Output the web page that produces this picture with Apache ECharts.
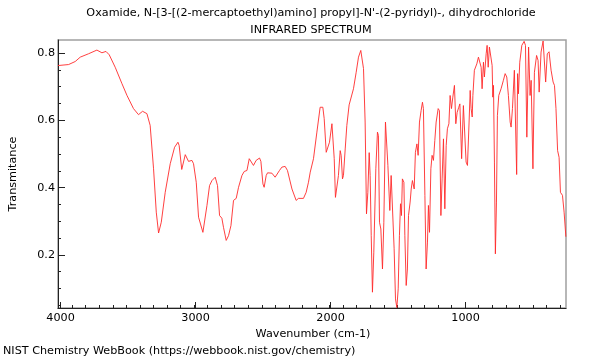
<!DOCTYPE html>
<html><head><meta charset="utf-8">
<script src="https://cdn.jsdelivr.net/npm/echarts@6/dist/echarts.min.js"></script>
<style>html,body{margin:0;padding:0;background:#fff}#c{width:600px;height:360px}</style>
</head><body><div id="c"></div>
<script>
const wavenumber = [4004,3926,3877,3840,3779,3717,3680,3650,3626,3582,
3532,3495,3447,3410,3380,3348,3324,3299,3279,3262,
3242,3213,3176,3144,3119,3110,3091,3065,3041,3016,
3004,2984,2967,2955,2935,2925,2905,2886,2868,2857,
2844,2827,2812,2795,2783,2763,2746,2728,2709,2689,
2672,2647,2630,2610,2593,2581,2562,2542,2517,2507,
2492,2483,2468,2458,2426,2402,2389,2370,2352,2328,
2311,2278,2247,2230,2193,2173,2156,2143,2119,2094,
2070,2057,2050,2040,2025,2016,2001,1983,1976,1966,
1957,1946,1935,1922,1915,1905,1898,1885,1873,1856,
1843,1824,1804,1787,1770,1758,1750,1738,1728,1718,
1708,1701,1693,1684,1674,1659,1647,1640,1632,1622,
1610,1600,1588,1581,1570,1563,1556,1546,1533,1524,
1514,1504,1494,1485,1477,1470,1463,1452,1445,1435,
1426,1418,1406,1398,1389,1376,1367,1356,1347,1337,
1325,1315,1308,1297,1288,1278,1271,1263,1253,1244,
1234,1224,1214,1199,1190,1179,1170,1160,1150,1140,
1131,1120,1111,1101,1091,1079,1069,1059,1047,1039,
1026,1013,1002,993,983,971,963,956,948,943,
932,914,902,890,882,875,865,858,845,838,
830,821,808,801,796,791,784,777,769,762,
752,742,735,727,718,705,693,681,668,661,
651,637,626,620,613,607,597,582,565,555,
545,532,521,513,500,489,473,462,454,440,
425,415,406,394,381,366,351,341,330,318,
307,297,282,270,257];
const transmittance = [0.763,0.766,0.775,0.788,0.798,0.809,0.801,0.805,0.795,0.758,
0.709,0.674,0.635,0.617,0.627,0.620,0.585,0.456,0.327,0.265,
0.297,0.386,0.471,0.520,0.535,0.525,0.454,0.498,0.478,0.481,
0.471,0.416,0.312,0.307,0.267,0.272,0.347,0.406,0.421,0.421,
0.431,0.406,0.317,0.309,0.282,0.243,0.257,0.287,0.362,0.368,
0.401,0.436,0.448,0.451,0.486,0.488,0.466,0.481,0.488,0.478,
0.411,0.401,0.436,0.444,0.443,0.431,0.426,0.451,0.461,0.463,
0.451,0.396,0.362,0.368,0.368,0.386,0.416,0.446,0.486,0.565,
0.639,0.644,0.639,0.605,0.505,0.501,0.535,0.590,0.593,0.486,
0.371,0.368,0.436,0.510,0.496,0.426,0.436,0.515,0.585,0.646,
0.642,0.694,0.743,0.788,0.808,0.805,0.754,0.595,0.322,0.386,
0.504,0.436,0.257,0.089,0.208,0.456,0.565,0.555,0.297,0.277,
0.158,0.297,0.595,0.590,0.466,0.461,0.332,0.436,0.431,0.218,
0.069,0.043,0.099,0.257,0.352,0.317,0.426,0.416,0.257,0.109,
0.158,0.317,0.357,0.396,0.421,0.396,0.505,0.530,0.496,0.595,
0.629,0.654,0.635,0.377,0.158,0.238,0.347,0.267,0.456,0.496,
0.481,0.540,0.595,0.635,0.629,0.317,0.426,0.545,0.337,0.525,
0.575,0.590,0.674,0.635,0.669,0.704,0.590,0.624,0.639,0.649,
0.486,0.644,0.649,0.476,0.466,0.595,0.689,0.635,0.610,0.674,
0.749,0.768,0.788,0.783,0.758,0.694,0.773,0.729,0.798,0.823,
0.758,0.818,0.823,0.763,0.669,0.704,0.476,0.203,0.357,0.615,
0.674,0.679,0.694,0.689,0.719,0.739,0.729,0.674,0.595,0.580,
0.635,0.749,0.754,0.439,0.739,0.679,0.773,0.823,0.835,0.823,
0.550,0.818,0.674,0.719,0.456,0.743,0.793,0.778,0.684,0.803,
0.836,0.833,0.714,0.798,0.804,0.749,0.714,0.704,0.635,0.510,
0.490,0.386,0.377,0.327,0.254];
const xMajorTicks = [4000,3000,2000,1000];
const xMinorTicks = [4000,3900,3800,3700,3600,3500,3400,3300,3200,3100,3000,2900,2800,2700,2600,2500,2400,2300,2200,2100,2000,1900,1800,1700,1600,1500,1400,1300,1200,1100,1000,900,800,700,600,500,400,300];
const yMajorTicks = [0.2,0.4,0.6,0.8];
const yMinorTicks = [0.05,0.1,0.15,0.2,0.25,0.3,0.35,0.4,0.45,0.5,0.55,0.6,0.65,0.7,0.75,0.8];
const titleLine1 = "Oxamide, N-[3-[(2-mercaptoethyl)amino] propyl]-N'-(2-pyridyl)-, dihydrochloride";
const titleLine2 = "INFRARED SPECTRUM";
const xName = "Wavenumber (cm-1)";
const yName = "Transmitance";
const footer = "NIST Chemistry WebBook (https://webbook.nist.gov/chemistry)";

const X_MIN = 256, X_MAX = 4004, Y_MIN = 0.042, Y_MAX = 0.839;
const FONT = 'DejaVu Sans';
const FS = 11.2;
const pts = wavenumber.map((w, i) => [w, transmittance[i]]);
const gridRect = {left: 58, right: 34, top: 40, bottom: 52};
const txt = {fontFamily: FONT, fontSize: FS, fontWeight: 'normal', color: '#000'};
const plotCenter = 311;

const chart = echarts.init(document.getElementById('c'), null, {renderer: 'canvas'});
chart.setOption({
  animation: false,
  backgroundColor: '#fff',
  title: [
    {text: titleLine1, left: plotCenter, textAlign: 'center', top: 8, padding: 0, textStyle: txt},
    {text: titleLine2, left: plotCenter, textAlign: 'center', top: 25, padding: 0, textStyle: txt},
    {text: footer, left: 3, top: 346, padding: 0, textStyle: txt}
  ],
  grid: [
    Object.assign({show: true, borderColor: '#a0a0a0', borderWidth: 1.5, backgroundColor: 'transparent'}, gridRect),
    Object.assign({show: false}, gridRect)
  ],
  xAxis: [
    {type: 'value', gridIndex: 0, min: X_MIN, max: X_MAX, inverse: true, position: 'bottom',
     axisLine: {show: true, onZero: false, lineStyle: {color: '#222', width: 1}},
     axisTick: {show: true, inside: true, length: 3, customValues: xMinorTicks, lineStyle: {color: '#222'}},
     axisLabel: {show: false}, splitLine: {show: false}},
    {type: 'value', gridIndex: 1, min: X_MIN, max: X_MAX, inverse: true, position: 'bottom',
     axisLine: {show: false, onZero: false},
     axisTick: {show: true, inside: true, length: 6, customValues: xMajorTicks, lineStyle: {color: '#222'}},
     axisLabel: {show: true, customValues: xMajorTicks, margin: 5, fontFamily: FONT, fontSize: FS, color: '#000',
                 formatter: v => String(v)},
     splitLine: {show: false},
     name: xName, nameLocation: 'middle', nameGap: 19,
     nameTextStyle: {fontFamily: FONT, fontSize: FS, color: '#000'}}
  ],
  yAxis: [
    {type: 'value', gridIndex: 0, min: Y_MIN, max: Y_MAX,
     axisLine: {show: true, onZero: false, lineStyle: {color: '#222', width: 1}},
     axisTick: {show: true, inside: true, length: 3, customValues: yMinorTicks, lineStyle: {color: '#222'}},
     axisLabel: {show: false}, splitLine: {show: false}},
    {type: 'value', gridIndex: 1, min: Y_MIN, max: Y_MAX,
     axisLine: {show: false, onZero: false},
     axisTick: {show: true, inside: true, length: 5, customValues: yMajorTicks, lineStyle: {color: '#222'}},
     axisLabel: {show: true, customValues: yMajorTicks, margin: 5, fontFamily: FONT, fontSize: FS, color: '#000',
                 formatter: v => v.toFixed(1)},
     splitLine: {show: false},
     name: yName, nameLocation: 'middle', nameGap: 41, nameRotate: 90,
     nameTextStyle: {fontFamily: FONT, fontSize: FS, color: '#000'}}
  ],
  series: [{
    type: 'line', xAxisIndex: 0, yAxisIndex: 0, data: pts,
    showSymbol: false, smooth: false, clip: true,
    lineStyle: {color: '#ff2a2a', width: 0.9},
    emphasis: {disabled: true}
  }]
});
</script></body></html>
